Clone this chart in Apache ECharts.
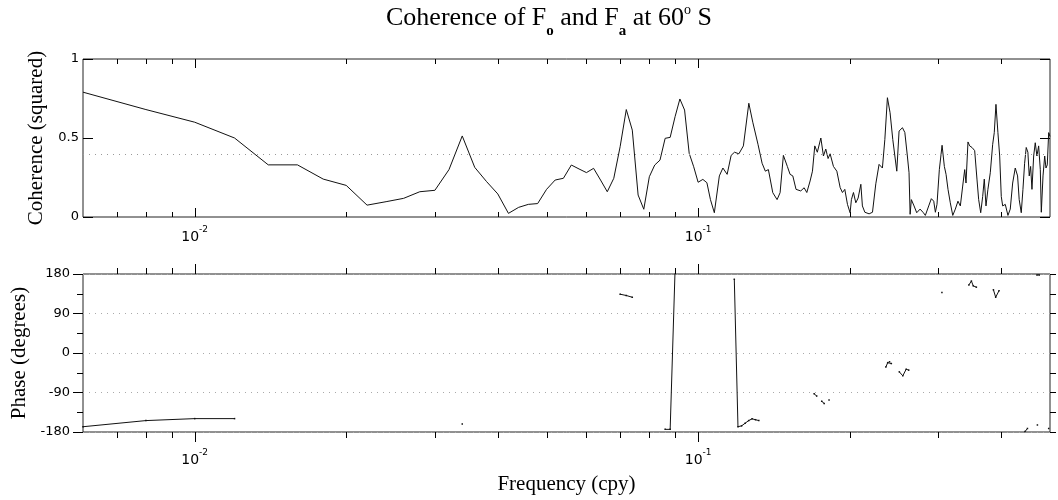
<!DOCTYPE html>
<html>
<head>
<meta charset="utf-8">
<script src="https://cdn.jsdelivr.net/npm/echarts@6/dist/echarts.min.js"></script>
<style>
html, body { margin: 0; padding: 0; background: #fff; }
#chart { width: 1058px; height: 500px; }
</style>
</head>
<body>
<div id="chart"></div>
<script>
// squared coherence of Fo and Fa at 60S, frequency in cycles per year
var cohFreq = [
  0.006, 0.008, 0.010, 0.012, 0.014, 0.016, 0.018, 0.020, 0.022, 0.024,
  0.026, 0.028, 0.030, 0.032, 0.034, 0.036, 0.038, 0.040, 0.042, 0.044,
  0.046, 0.048, 0.050, 0.052, 0.054, 0.056, 0.058, 0.060, 0.062, 0.064,
  0.066, 0.068, 0.070, 0.072, 0.074, 0.076, 0.078, 0.080, 0.082, 0.084,
  0.086, 0.088, 0.090, 0.092, 0.094, 0.096, 0.098, 0.100,
  0.1022, 0.1041, 0.1058, 0.1077, 0.1102, 0.1120, 0.1142, 0.1163, 0.1181, 0.1205,
  0.1230, 0.1261, 0.1284, 0.1315, 0.1340, 0.1360, 0.1379, 0.1407, 0.1435, 0.1455,
  0.1477, 0.1504, 0.1523, 0.1542, 0.1565, 0.1599, 0.1624, 0.1644, 0.1669, 0.1687,
  0.1705, 0.1725, 0.1753, 0.1774, 0.1793, 0.1812, 0.1829, 0.1857, 0.1886, 0.1915,
  0.1935, 0.1956, 0.1980, 0.2004, 0.2016, 0.2035, 0.2057, 0.2079, 0.2105, 0.2120,
  0.2144, 0.2186, 0.2220, 0.2254, 0.2288, 0.2323, 0.2349, 0.2377, 0.2406, 0.2436,
  0.2481, 0.2507, 0.2546, 0.2574, 0.2604, 0.2624, 0.2637, 0.2652, 0.2685, 0.2718,
  0.2760, 0.2802, 0.2827, 0.2871, 0.2906, 0.2938, 0.2960, 0.2982, 0.3014, 0.3052,
  0.3084, 0.3108, 0.3136, 0.3169, 0.3205, 0.3243, 0.3282, 0.3318, 0.3354, 0.3385,
  0.3405, 0.3436, 0.3463, 0.3500, 0.3543, 0.3580, 0.3608, 0.3642, 0.3675, 0.3702,
  0.3731, 0.3764, 0.3805, 0.3847, 0.3875, 0.3905, 0.3940, 0.3972, 0.4001, 0.4027,
  0.4075, 0.4125, 0.4169, 0.4215, 0.4265, 0.4311, 0.4343, 0.4384, 0.4418, 0.4452,
  0.4485, 0.4519, 0.4547, 0.4576, 0.4604, 0.4640, 0.4674, 0.4710, 0.4747, 0.4783,
  0.4805, 0.4843, 0.4880, 0.4909, 0.4938, 0.4970, 0.5000
];
var cohVal = [
  0.79, 0.68, 0.60, 0.50, 0.33, 0.33, 0.24, 0.20, 0.075, 0.097,
  0.118, 0.16, 0.169, 0.30, 0.513, 0.314, 0.224, 0.146, 0.023, 0.061,
  0.080, 0.085, 0.175, 0.234, 0.245, 0.329, 0.304, 0.281, 0.308, 0.234,
  0.16, 0.245, 0.445, 0.68, 0.55, 0.139, 0.049, 0.255, 0.329, 0.36,
  0.498, 0.504, 0.635, 0.747, 0.677, 0.403, 0.318, 0.22,
  0.238, 0.217, 0.11, 0.027, 0.26, 0.31, 0.27, 0.39, 0.41, 0.40,
  0.45, 0.72, 0.60, 0.46, 0.34, 0.29, 0.30, 0.154, 0.11, 0.154,
  0.39, 0.32, 0.27, 0.26, 0.175, 0.165, 0.185, 0.155, 0.228, 0.29,
  0.45, 0.41, 0.50, 0.386, 0.43, 0.37, 0.40, 0.32, 0.29, 0.186,
  0.155, 0.175, 0.08, 0.027, 0.11, 0.155, 0.09, 0.12, 0.207, 0.07,
  0.03, 0.02, 0.03, 0.21, 0.333, 0.31, 0.49, 0.755, 0.66, 0.49,
  0.29, 0.544, 0.565, 0.535, 0.386, 0.28, 0.017, 0.11, 0.07, 0.027,
  0.05, 0.027, 0.01, 0.07, 0.116, 0.10, 0.03, 0.08, 0.30, 0.454,
  0.32, 0.27, 0.175, 0.09, 0.01, 0.05, 0.10, 0.07, 0.196, 0.30,
  0.215, 0.475, 0.45, 0.44, 0.42, 0.24, 0.11, 0.027, 0.13, 0.24,
  0.07, 0.175, 0.28, 0.46, 0.534, 0.713, 0.534, 0.386, 0.13, 0.07,
  0.08, 0.01, 0.05, 0.215, 0.31, 0.26, 0.11, 0.027, 0.175, 0.34,
  0.44, 0.41, 0.26, 0.32, 0.175, 0.386, 0.47, 0.386, 0.45, 0.30,
  0.03, 0.26, 0.386, 0.31, 0.33, 0.534, 0.51
];
var sigLevel = 0.4;

// phase in degrees, null = break in the curve
var phaseFreq = [
  0.006, 0.008, 0.010, 0.012, null,
  0.034, null,
  0.070, 0.072, 0.074, null,
  0.086, 0.088, 0.090, null,
  0.118, 0.120, 0.122, 0.124, 0.126, 0.128, 0.130, 0.132, null,
  0.170, 0.172, null,
  0.176, 0.178, null,
  0.182, null,
  0.236, 0.238, 0.240, 0.242, null,
  0.251, 0.255, 0.259, 0.262, null,
  0.305, null,
  0.345, 0.349, 0.352, 0.357, null,
  0.386, 0.390, 0.396, null,
  0.446, 0.451, null,
  0.471, 0.476, null,
  0.472, null,
  0.497
];
var phaseVal = [
  -168, -154, -149.5, -149.5, null,
  -162, null,
  134, 131, 127, null,
  -174, -174, 190, null,
  168, -168, -166, -160, -154, -150, -152, -154, null,
  -93, -98, null,
  -110, -115, null,
  -107, null,
  -32, -22, -20, -24, null,
  -43, -52, -37, -39, null,
  138, null,
  155, 164, 153, 150, null,
  144, 127, 142, null,
  -179, -172, null,
  178, 178, null,
  -164, null,
  -172
];

var majorTicks = [0.01, 0.1];
var minorTicks = [0.007, 0.008, 0.009, 0.02, 0.03, 0.04, 0.05, 0.06, 0.07, 0.08, 0.09, 0.2, 0.3, 0.4];

var cohData = cohFreq.map(function (f, i) { return [f, cohVal[i]]; });
var phaseData = phaseFreq.map(function (f, i) {
  return f === null ? [NaN, '-'] : [f, phaseVal[i]];
});
var tickData = majorTicks.map(function (f) { return [f, 1]; })
  .concat(minorTicks.map(function (f) { return [f, 0]; }));

var chart = echarts.init(document.getElementById('chart'));

var sansFont = 'DejaVu Sans';
var serifFont = 'Liberation Serif';

function powLabel(v) {
  var e = Math.log(v) / Math.LN10;
  if (Math.abs(e - Math.round(e)) > 1e-6) return '';
  return '{b|10}{s|' + Math.round(e) + '}';
}

function freqAxis(idx, margin) {
  return {
    gridIndex: idx,
    type: 'log',
    logBase: 10,
    min: 0.006,
    max: 0.5,
    axisLine: { show: false },
    axisTick: { show: false },
    splitLine: { show: false },
    axisLabel: {
      margin: margin,
      formatter: powLabel,
      rich: {
        b: { fontFamily: sansFont, fontSize: 14, color: '#000', lineHeight: 24 },
        s: { fontFamily: sansFont, fontSize: 9, color: '#000', lineHeight: 10, verticalAlign: 'top' }
      }
    }
  };
}

// x ticks on top and bottom edge of a panel, drawn through the log axis
function tickSeries(idx, outward) {
  return {
    type: 'custom',
    xAxisIndex: idx,
    yAxisIndex: idx * 2,
    silent: true,
    z: 10,
    data: tickData,
    renderItem: function (params, api) {
      var cs = params.coordSys;
      var x = Math.round(api.coord([api.value(0), 0])[0]) + 0.5;
      var len = api.value(1) ? (outward ? 10 : 9) : (outward ? 6 : 5);
      var d = outward ? -1 : 1;
      var st = { stroke: '#000', lineWidth: 1 };
      return {
        type: 'group',
        children: [
          { type: 'line', shape: { x1: x, y1: cs.y, x2: x, y2: cs.y + d * len }, style: st },
          { type: 'line', shape: { x1: x, y1: cs.y + cs.height, x2: x, y2: cs.y + cs.height - d * len }, style: st }
        ]
      };
    }
  };
}

chart.setOption({
  animation: false,
  backgroundColor: '#fff',
  title: {
    left: 386,
    top: -3,
    padding: 0,
    text: '{a|Coherence of F}{b|o}{a| and F}{b|a}{a| at 60}{c|o}{a| S}',
    textStyle: {
      fontWeight: 'normal',
      rich: {
        a: { fontFamily: serifFont, fontSize: 26, fontWeight: 'normal', color: '#000', lineHeight: 42 },
        b: { fontFamily: serifFont, fontSize: 15, fontWeight: 'bold', color: '#000', lineHeight: 10, verticalAlign: 'bottom' },
        c: { fontFamily: serifFont, fontSize: 14, fontWeight: 'normal', color: '#000', lineHeight: 20, verticalAlign: 'top', padding: [6, 0, 0, 0] }
      }
    }
  },
  grid: [
    { left: 83, top: 59, width: 967, height: 158, show: true, borderColor: '#222', borderWidth: 1 },
    { left: 83, top: 274, width: 967, height: 158, show: true, borderColor: '#222', borderWidth: 1 }
  ],
  xAxis: [
    freqAxis(0, 8),
    Object.assign(freqAxis(1, 16), {
      name: 'Frequency (cpy)',
      nameLocation: 'middle',
      nameGap: 42,
      nameTextStyle: { fontFamily: serifFont, fontSize: 21, color: '#000' }
    })
  ],
  yAxis: [
    {
      gridIndex: 0, position: 'left', min: 0, max: 1, interval: 0.5,
      name: 'Coherence (squared)', nameLocation: 'middle', nameGap: 30,
      nameTextStyle: { fontFamily: serifFont, fontSize: 21, color: '#000' },
      axisLine: { show: false },
      axisTick: { inside: true, length: 10, lineStyle: { color: '#000' } },
      axisLabel: { margin: 4, fontFamily: sansFont, fontSize: 13, color: '#000' },
      splitLine: { show: false }
    },
    {
      gridIndex: 0, position: 'right', min: 0, max: 1, interval: 0.5,
      axisLine: { show: false },
      axisTick: { inside: true, length: 10, lineStyle: { color: '#000' } },
      axisLabel: { show: false },
      splitLine: { show: false }
    },
    {
      gridIndex: 1, position: 'left', min: -180, max: 180, interval: 90,
      name: 'Phase (degrees)', nameLocation: 'middle', nameGap: 50,
      nameTextStyle: { fontFamily: serifFont, fontSize: 21, color: '#000' },
      axisLine: { show: false },
      axisTick: { length: 10, lineStyle: { color: '#000' } },
      minorTick: { show: true, splitNumber: 2, length: 6, lineStyle: { color: '#000' } },
      axisLabel: { margin: 13, fontFamily: sansFont, fontSize: 13, color: '#000' },
      splitLine: { show: true, lineStyle: { type: [1, 5], color: '#aaa', width: 1 } }
    },
    {
      gridIndex: 1, position: 'right', min: -180, max: 180, interval: 90,
      axisLine: { show: false },
      axisTick: { length: 6, lineStyle: { color: '#000' } },
      minorTick: { show: true, splitNumber: 2, length: 6, lineStyle: { color: '#000' } },
      axisLabel: { show: false },
      splitLine: { show: false }
    }
  ],
  series: [
    {
      name: 'coherence',
      type: 'line',
      xAxisIndex: 0,
      yAxisIndex: 0,
      data: cohData,
      showSymbol: false,
      lineStyle: { color: '#111', width: 1 },
      markLine: {
        silent: true,
        symbol: 'none',
        label: { show: false },
        lineStyle: { type: [1, 5], color: '#999', width: 1 },
        data: [{ yAxis: sigLevel }]
      }
    },
    {
      name: 'phase',
      type: 'line',
      xAxisIndex: 1,
      yAxisIndex: 2,
      data: phaseData,
      connectNulls: false,
      symbol: 'rect',
      symbolSize: 1.5,
      itemStyle: { color: '#111' },
      lineStyle: { color: '#111', width: 1 }
    },
    tickSeries(0, false),
    tickSeries(1, true)
  ]
});
</script>
</body>
</html>
